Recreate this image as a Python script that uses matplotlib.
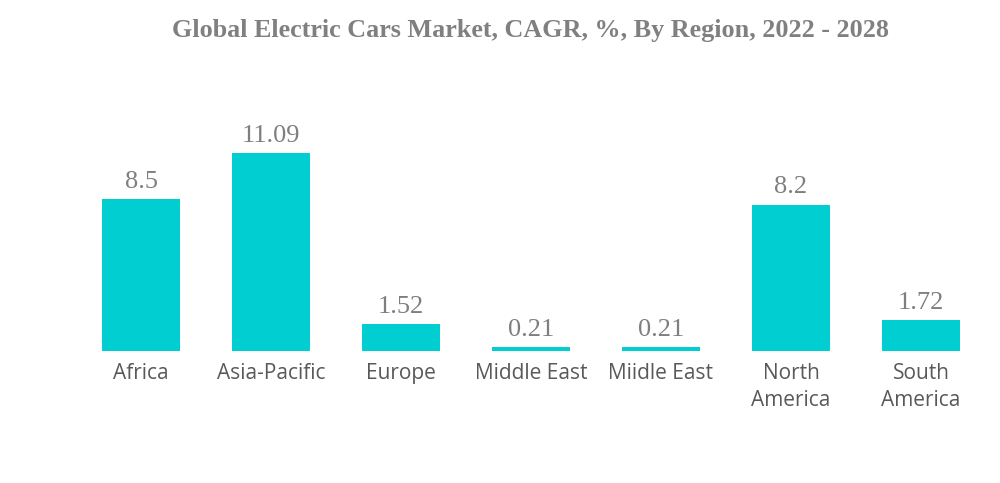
import matplotlib.pyplot as plt

regions = ["Africa", "Asia-Pacific", "Europe", "Middle East", "Miidle East",
           "North\nAmerica", "South\nAmerica"]
cagr = [8.5, 11.09, 1.52, 0.21, 0.21, 8.2, 1.72]
value_labels = ["8.5", "11.09", "1.52", "0.21", "0.21", "8.2", "1.72"]

fig = plt.figure(figsize=(10, 4.83), dpi=100)
ax = fig.add_axes([0.076, 0.2733, 0.91, 0.4435])

x = list(range(len(regions)))
ax.bar(x, cagr, width=0.6, color="#00CED1")

for xi, v, lab in zip(x, cagr, value_labels):
    ax.text(xi, v + 0.35, lab, ha="center", va="bottom",
            fontsize=19, color="#7f7f7f", family="Liberation Serif")

ax.set_xlim(-0.5, 6.5)
ax.set_ylim(0, 12)
ax.set_xticks(x)
ax.set_xticklabels(regions, fontsize=15, color="#595959", family="Open Sans",
                   linespacing=1.35)
ax.tick_params(axis="x", length=0, pad=9)
ax.set_yticks([])
for s in ax.spines.values():
    s.set_visible(False)

fig.text(0.53, 0.937, "Global Electric Cars Market, CAGR, %, By Region, 2022 - 2028",
         ha="center", va="center", fontsize=18.8, fontweight="bold",
         color="#808080", family="Liberation Serif")

fig.savefig("out.png", dpi=100)
